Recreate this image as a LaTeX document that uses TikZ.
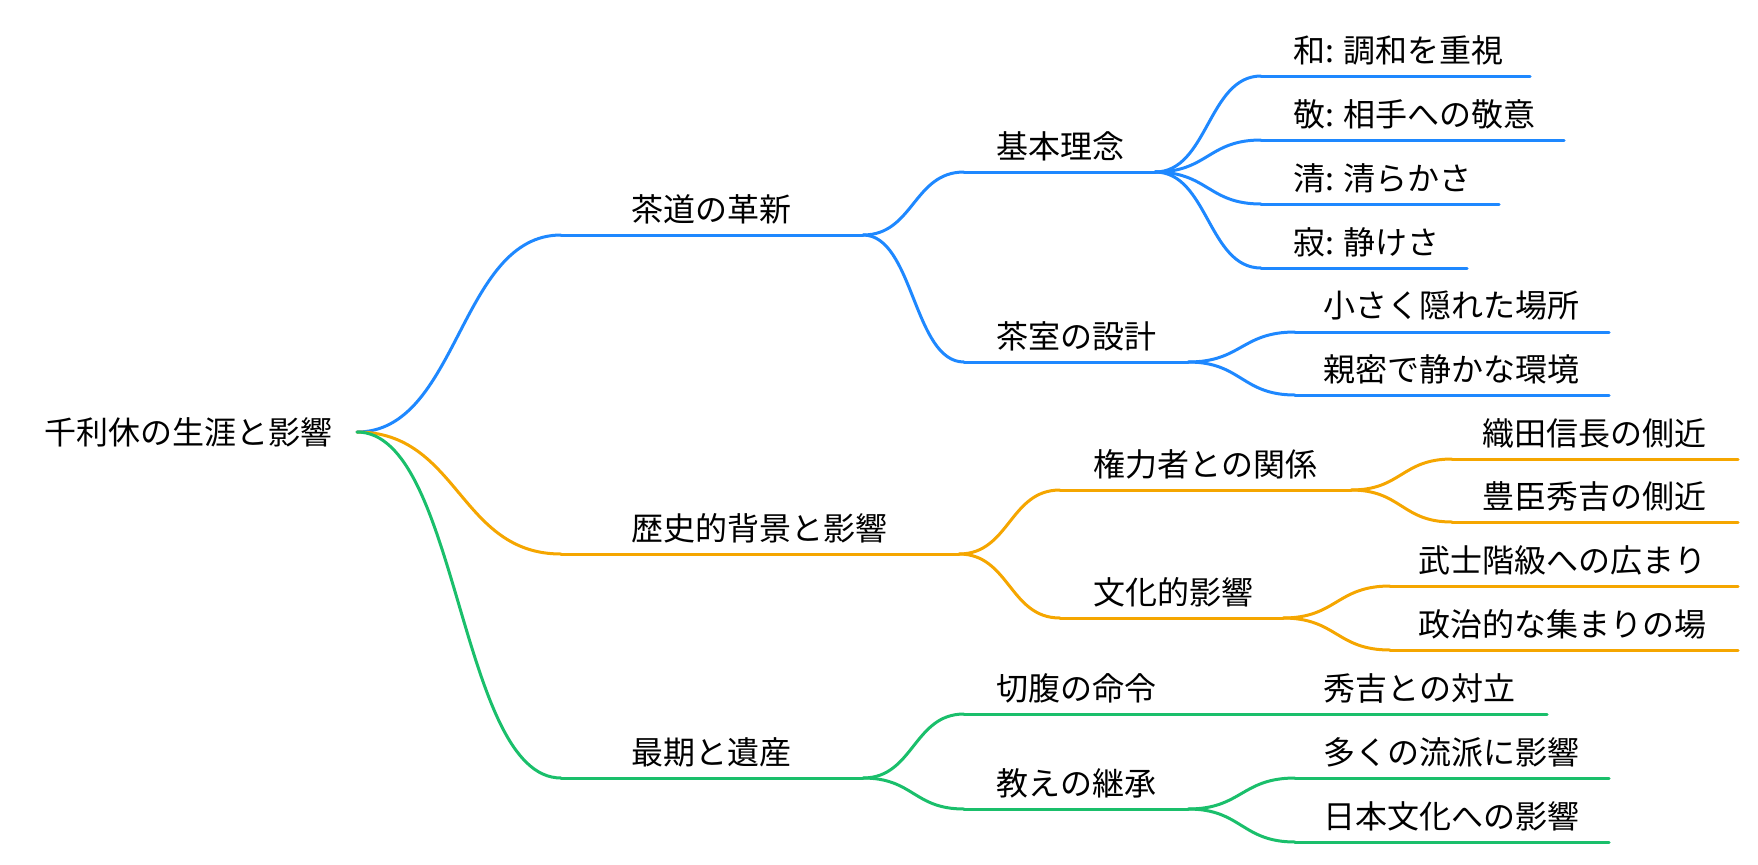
\documentclass[tikz,border=0pt]{standalone}
\usepackage{fontspec}
\setmainfont{Noto Sans CJK JP}
\usetikzlibrary{calc}

\definecolor{mapblue}{RGB}{30,136,255}
\definecolor{maporange}{RGB}{245,166,0}
\definecolor{mapgreen}{RGB}{26,191,107}

% Un tema: subrayado + texto
\newcommand{\topic}[7]{%
  \coordinate (#1-s) at (#3,#5);
  \coordinate (#1-e) at (#4,#5);
  \draw[branch,#2] (#1-s) -- (#1-e);
  \node[topictext] (#1) at ({#3+#6},{#5-26}) {#7};
}
% Enlace curvo del padre al hijo
\newcommand{\branchlink}[3]{%
  \coordinate (#2-#3-m) at ($(#2-e)!0.5!(#3-s)$);
  \draw[branch,#1] (#2-e) .. controls (#2-#3-m |- #2-e) and (#2-#3-m |- #3-s) .. (#3-s);
}

\begin{document}
\begin{tikzpicture}[x=0.5pt, y=-0.5pt,
  branch/.style={line width=1.5pt, line cap=round},
  topictext/.style={anchor=west, inner sep=0pt, font=\fontsize{16}{19}\selectfont}]
\useasboundingbox (0,0) rectangle (1758,864);

% Raiz
\node[topictext, anchor=east] (root) at (333,432) {千利休の生涯と影響};
\coordinate (root-e) at (357,432);

% Rama azul
\topic{tea}{mapblue}{561}{863}{235}{70}{茶道の革新}
\topic{idea}{mapblue}{964}{1155}{172}{32}{基本理念}
\topic{room}{mapblue}{964}{1188}{362}{32}{茶室の設計}
\topic{wa}{mapblue}{1261}{1530}{76}{32}{和: 調和を重視}
\topic{kei}{mapblue}{1261}{1564}{140}{32}{敬: 相手への敬意}
\topic{sei}{mapblue}{1261}{1499}{204}{32}{清: 清らかさ}
\topic{jaku}{mapblue}{1261}{1467}{268}{32}{寂: 静けさ}
\topic{small}{mapblue}{1295}{1609}{332}{28}{小さく隠れた場所}
\topic{calm}{mapblue}{1295}{1609}{395}{28}{親密で静かな環境}

% Rama naranja
\topic{hist}{maporange}{561}{959}{554}{70}{歴史的背景と影響}
\topic{power}{maporange}{1060}{1351}{490}{33}{権力者との関係}
\topic{culture}{maporange}{1060}{1283}{618}{33}{文化的影響}
\topic{nobu}{maporange}{1452}{1738}{459}{30}{織田信長の側近}
\topic{hide}{maporange}{1452}{1738}{522}{30}{豊臣秀吉の側近}
\topic{bushi}{maporange}{1390}{1738}{586}{28}{武士階級への広まり}
\topic{seiji}{maporange}{1390}{1738}{650}{28}{政治的な集まりの場}

% Rama verde
\topic{last}{mapgreen}{561}{863}{778}{70}{最期と遺産}
\topic{seppuku}{mapgreen}{964}{1188}{714}{32}{切腹の命令}
\topic{teach}{mapgreen}{964}{1188}{809}{32}{教えの継承}
\topic{conflict}{mapgreen}{1295}{1547}{714}{28}{秀吉との対立}
\topic{ryuha}{mapgreen}{1295}{1609}{778}{28}{多くの流派に影響}
\topic{nihon}{mapgreen}{1295}{1609}{842}{28}{日本文化への影響}

% Enlaces
\branchlink{mapblue}{root}{tea}
\branchlink{maporange}{root}{hist}
\branchlink{mapgreen}{root}{last}
\branchlink{mapblue}{tea}{idea}
\branchlink{mapblue}{tea}{room}
\branchlink{mapblue}{idea}{wa}
\branchlink{mapblue}{idea}{kei}
\branchlink{mapblue}{idea}{sei}
\branchlink{mapblue}{idea}{jaku}
\branchlink{mapblue}{room}{small}
\branchlink{mapblue}{room}{calm}
\branchlink{maporange}{hist}{power}
\branchlink{maporange}{hist}{culture}
\branchlink{maporange}{power}{nobu}
\branchlink{maporange}{power}{hide}
\branchlink{maporange}{culture}{bushi}
\branchlink{maporange}{culture}{seiji}
\branchlink{mapgreen}{last}{seppuku}
\branchlink{mapgreen}{last}{teach}
\branchlink{mapgreen}{seppuku}{conflict}
\branchlink{mapgreen}{teach}{ryuha}
\branchlink{mapgreen}{teach}{nihon}

\end{tikzpicture}
\end{document}
